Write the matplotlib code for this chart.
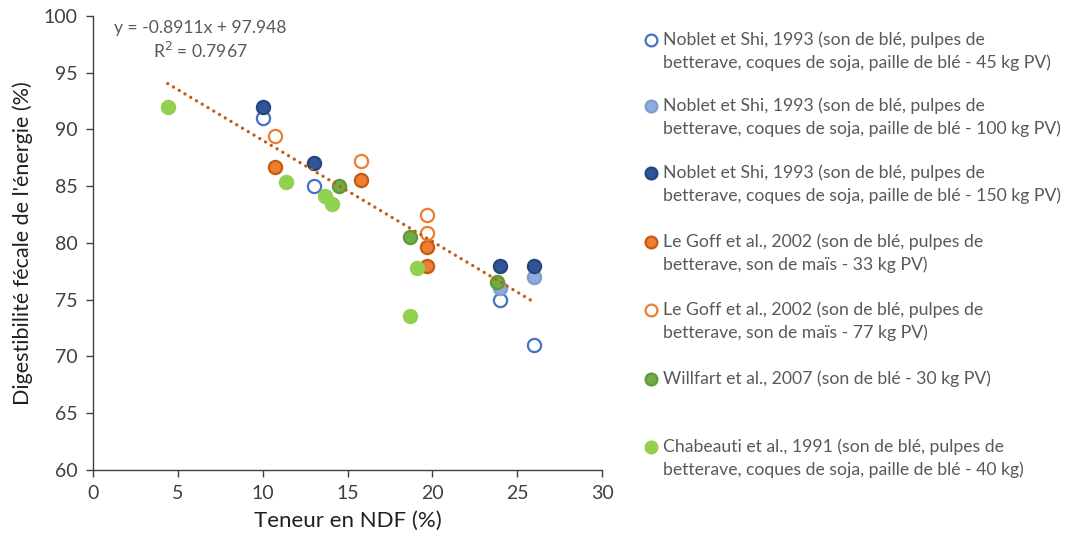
import matplotlib.pyplot as plt
from matplotlib.lines import Line2D

plt.rcParams['font.family'] = ['Lato', 'DejaVu Sans']

# Teneur en NDF (%) / digestibilité fécale de l'énergie (%) par série
noblet45_x = [10.0, 13.0, 24.0, 26.0]
noblet45_y = [91.0, 85.0, 75.0, 71.0]
noblet100_x = [24.0, 26.0]
noblet100_y = [76.0, 77.0]
noblet150_x = [10.0, 13.0, 24.0, 26.0]
noblet150_y = [92.0, 87.0, 78.0, 78.0]
legoff33_x = [10.7, 15.8, 19.7, 19.7]
legoff33_y = [86.7, 85.5, 79.6, 78.0]
legoff77_x = [10.7, 15.8, 19.7, 19.7]
legoff77_y = [89.4, 87.2, 82.5, 80.9]
willfart_x = [14.5, 18.7, 23.8]
willfart_y = [85.0, 80.5, 76.6]
chabeauti_x = [4.4, 11.4, 13.7, 14.1, 19.1, 18.7]
chabeauti_y = [92.0, 85.4, 84.1, 83.4, 77.8, 73.6]

slope = -0.8911
intercept = 97.948
r2 = 0.7967

labels = [
    "Noblet et Shi, 1993 (son de blé, pulpes de\nbetterave, coques de soja, paille de blé - 45 kg PV)",
    "Noblet et Shi, 1993 (son de blé, pulpes de\nbetterave, coques de soja, paille de blé - 100 kg PV)",
    "Noblet et Shi, 1993 (son de blé, pulpes de\nbetterave, coques de soja, paille de blé - 150 kg PV)",
    "Le Goff et al., 2002 (son de blé, pulpes de\nbetterave, son de maïs - 33 kg PV)",
    "Le Goff et al., 2002 (son de blé, pulpes de\nbetterave, son de maïs - 77 kg PV)",
    "Willfart et al., 2007 (son de blé - 30 kg PV)",
    "Chabeauti et al., 1991 (son de blé, pulpes de\nbetterave, coques de soja, paille de blé - 40 kg)",
]

# (face, edge) for each series
styles = [
    ('white', '#4472C4'),
    ('#8FAADC', '#7F9BD0'),
    ('#2F5597', '#24457E'),
    ('#ED7D31', '#C55A11'),
    ('white', '#ED7D31'),
    ('#70AD47', '#5E9A38'),
    ('#92D050', '#92D050'),
]
series = [
    (noblet45_x, noblet45_y), (noblet100_x, noblet100_y),
    (noblet150_x, noblet150_y), (legoff33_x, legoff33_y),
    (legoff77_x, legoff77_y), (willfart_x, willfart_y),
    (chabeauti_x, chabeauti_y),
]

fig = plt.figure(figsize=(10.67, 5.44), dpi=100)
ax = fig.add_axes([0.0872, 0.136, 0.477, 0.835])

all_x = []
for (xs, ys), (fc, ec) in zip(series, styles):
    ax.plot(xs, ys, 'o', ms=9.5, mfc=fc, mec=ec, mew=1.6, ls='none',
            clip_on=False, zorder=3)
    all_x += xs

# Linear trend line over the data range, round dots
x0, x1 = min(all_x), max(all_x)
ax.plot([x0, x1], [slope * x0 + intercept, slope * x1 + intercept],
        ls=(0, (0.01, 2.0)), lw=2.4, color='#C55A11', dash_capstyle='round',
        zorder=4)

ax.text(6.3, 98.9, f"y = {slope}x + {intercept}", ha='center', va='center',
        fontsize=12.6, color='#595959')
ax.text(6.3, 96.9, f"R$^2$ = {r2}", ha='center', va='center',
        fontsize=12.6, color='#595959')

ax.set_xlim(0, 30)
ax.set_ylim(60, 100)
ax.set_xticks(range(0, 31, 5))
ax.set_yticks(range(60, 101, 5))
for s in ['top', 'right']:
    ax.spines[s].set_visible(False)
for s in ['left', 'bottom']:
    ax.spines[s].set_color('#404040')
    ax.spines[s].set_linewidth(1.0)
ax.tick_params(direction='out', length=5, width=1.0, color='#404040',
               labelsize=14, labelcolor='#404040', pad=6)
ax.set_xlabel("Teneur en NDF (%)", fontsize=16, color='#202020', labelpad=6)
ax.set_ylabel("Digestibilité fécale de l'énergie (%)", fontsize=15.5,
              color='#202020', labelpad=8)

# Legend drawn by hand on the right side
rows_px = [40, 106, 173, 242, 310, 379, 447]
for lab, (fc, ec), ypx in zip(labels, styles, rows_px):
    yf = 1 - ypx / 544
    fig.add_artist(Line2D([651 / 1067], [yf], marker='o', ms=8.5, mfc=fc,
                          mec=ec, mew=1.6, ls='none',
                          transform=fig.transFigure))
    fig.text(663 / 1067, yf + 8.5 / 544, lab, ha='left', va='top',
             fontsize=12.7, color='#595959', linespacing=1.45)

fig.savefig('out.png', dpi=100)
